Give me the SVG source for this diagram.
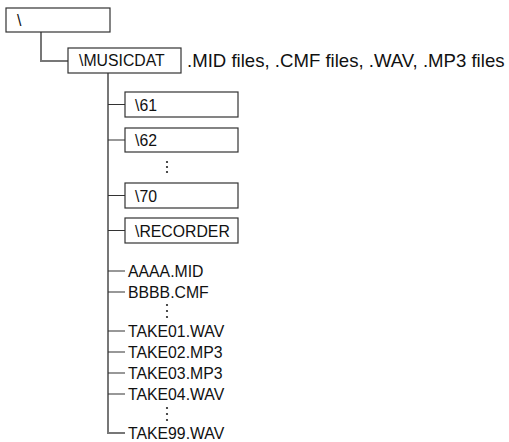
<svg xmlns="http://www.w3.org/2000/svg" width="509" height="442" viewBox="0 0 509 442">
<style>
.box{fill:#fff;stroke:#333;stroke-width:1.2}
.t{font-family:"Liberation Sans",Arial,sans-serif;font-size:15.8px;fill:#111}
.h{font-family:"Liberation Sans",Arial,sans-serif;font-size:18.6px;fill:#111}
.v{stroke:#777;stroke-width:2;fill:none}
.c{stroke:#333;stroke-width:1.1;fill:none}
.d{fill:#222}
</style>
<rect width="509" height="442" fill="#fff"/>
<g id="connectors">
<path class="v" d="M41 32V61H68"/>
<path class="v" d="M108 73V433H125"/>
<path class="c" d="M108 104.5H125M108 140H125M108 195.5H125M108 230.5H125"/>
<path class="c" d="M108 271H125M108 292H125M108 331H125M108 352H125M108 373H125M108 394H125"/>
</g>
<g id="root"><rect class="box" x="6" y="8" width="104" height="24"/><text class="t" x="17" y="25.5">\</text></g>
<g id="musicdat"><rect class="box" x="68" y="48" width="113" height="25"/><text class="t" x="79" y="66">\MUSICDAT</text></g>
<g id="musicdat-note"><text class="h" x="187" y="66.5">.MID files, .CMF files, .WAV, .MP3 files</text></g>
<g id="d61"><rect class="box" x="125" y="92" width="113" height="25"/><text class="t" x="135" y="110.5">\61</text></g>
<g id="d62"><rect class="box" x="125" y="128" width="113" height="24"/><text class="t" x="135" y="146">\62</text></g>
<g id="dots1"><circle class="d" cx="167" cy="162" r="1.1"/><circle class="d" cx="167" cy="167" r="1.1"/><circle class="d" cx="167" cy="172" r="1.1"/></g>
<g id="d70"><rect class="box" x="125" y="183" width="113" height="25"/><text class="t" x="135" y="201.5">\70</text></g>
<g id="recorder"><rect class="box" x="125" y="218" width="113" height="25"/><text class="t" x="135" y="236.5">\RECORDER</text></g>
<g id="f-aaaa"><text class="t" x="128" y="276.7">AAAA.MID</text></g>
<g id="f-bbbb"><text class="t" x="128" y="297.7">BBBB.CMF</text></g>
<g id="dots2"><circle class="d" cx="167" cy="305" r="1.1"/><circle class="d" cx="167" cy="311" r="1.1"/><circle class="d" cx="167" cy="317" r="1.1"/></g>
<g id="f-take01"><text class="t" x="128" y="336.7">TAKE01.WAV</text></g>
<g id="f-take02"><text class="t" x="128" y="357.7">TAKE02.MP3</text></g>
<g id="f-take03"><text class="t" x="128" y="378.7">TAKE03.MP3</text></g>
<g id="f-take04"><text class="t" x="128" y="399.7">TAKE04.WAV</text></g>
<g id="dots3"><circle class="d" cx="167" cy="408" r="1.1"/><circle class="d" cx="167" cy="414" r="1.1"/><circle class="d" cx="167" cy="420" r="1.1"/></g>
<g id="f-take99"><text class="t" x="128" y="438.7">TAKE99.WAV</text></g>
</svg>
